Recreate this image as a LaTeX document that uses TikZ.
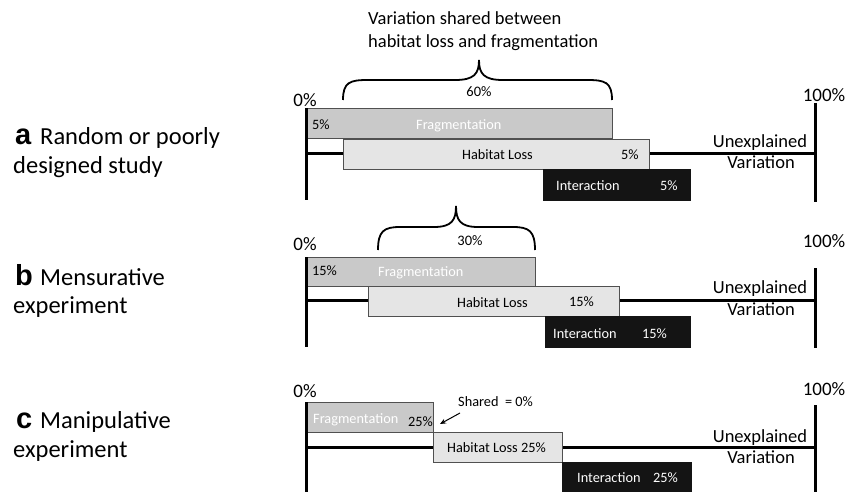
\documentclass[tikz,border=0pt]{standalone}
\usepackage{fontspec}
\setmainfont{Carlito}
\newfontfamily\letterfont{Liberation Sans}
\usetikzlibrary{arrows.meta}
\definecolor{fragfill}{RGB}{201,201,201}
\definecolor{habfill}{RGB}{229,229,229}
\definecolor{barline}{RGB}{80,80,80}
\definecolor{interfill}{RGB}{20,20,20}

\begin{document}
\begin{tikzpicture}[x=1pt,y=-1pt,
  axis/.style={line width=3pt},
  brace/.style={line width=1.8pt},
  barbase/.style={draw=barline, line width=0.8pt, anchor=north west, inner sep=0pt},
  fragbox/.style={barbase, fill=fragfill},
  habbox/.style={barbase, fill=habfill},
  interbox/.style={barbase, draw=interfill, fill=interfill},
  pct/.style={font=\fontsize{19}{19}\selectfont, inner sep=0pt, anchor=base},
  bigtxt/.style={font=\fontsize{18.5}{22}\selectfont, inner sep=0pt},
  barlbl/.style={font=\fontsize{14.3}{16}\selectfont, inner sep=0pt, anchor=base west},
  midpct/.style={font=\fontsize{14.5}{16}\selectfont, inner sep=0pt, anchor=base},
  sidetxt/.style={font=\fontsize{24.5}{28}\selectfont, inner sep=0pt, anchor=base west},
  lettertxt/.style={font=\letterfont\bfseries\fontsize{29}{29}\selectfont, inner sep=0pt, anchor=base west},
  unexpl/.style={bigtxt, anchor=base},
  sharedarrow/.style={line width=1pt, -{Stealth[length=6pt,width=5pt]}}
]
\useasboundingbox (0,0) rectangle (846,492);

% ---------- side labels ----------
\node[lettertxt] (la) at (15,145) {a};
\node[sidetxt] (la1) at (40,145) {Random or poorly};
\node[sidetxt] (la2) at (13,173) {designed study};
\node[lettertxt] (lb) at (15,285) {b};
\node[sidetxt] (lb1) at (40,285) {Mensurative};
\node[sidetxt] (lb2) at (13,313) {experiment};
\node[lettertxt] (lc) at (16,428) {c};
\node[sidetxt] (lc1) at (40,428) {Manipulative};
\node[sidetxt] (lc2) at (13,457) {experiment};

% ---------- panel a ----------
\node[bigtxt, anchor=base west] (titleA1) at (368,25) {Variation shared between};
\node[bigtxt, anchor=base west] (titleA2) at (368,48) {habitat loss and fragmentation};
\draw[brace] (343,100) .. controls (343,82) and (350,80) .. (368,80) -- (455,80)
  .. controls (474,80) and (479,74) .. (479,60)
  .. controls (479,74) and (484,80) .. (503,80) -- (587,80)
  .. controls (605,80) and (612,82) .. (612,100);
\node[midpct] (a60) at (479,97) {60\%};
\node[pct] (a0) at (305,107) {0\%};
\node[pct] (a100) at (824,102) {100\%};

\coordinate (aH1) at (306,154);
\coordinate (aH2) at (815,154);
\draw[axis] (aH1) -- (aH2);
\node[fragbox, minimum width=306pt, minimum height=30pt] (aF) at (306,108) {};
\node[habbox, minimum width=306pt, minimum height=30pt] (aH) at (343,139) {};
\node[interbox, minimum width=147pt, minimum height=31pt] (aI) at (543,169) {};
\coordinate (aL1) at (306,108);
\coordinate (aL2) at (306,200);
\coordinate (aR1) at (815,103);
\coordinate (aR2) at (815,202);
\draw[axis] (aL1) -- (aL2);
\draw[axis] (aR1) -- (aR2);

\node[barlbl] (aFp) at (312,130) {5\%};
\node[barlbl, text=white] (aFt) at (416,130) {Fragmentation};
\node[barlbl] (aHt) at (462,160) {Habitat Loss};
\node[barlbl] (aHp) at (621,160) {5\%};
\node[barlbl, text=white] (aIt) at (556,190) {Interaction};
\node[barlbl, text=white] (aIp) at (660,190) {5\%};
\node[unexpl] (aU1) at (760,147) {Unexplained};
\node[unexpl] (aU2) at (761,168) {Variation};

% ---------- panel b ----------
\draw[brace] (378,250) .. controls (378,231) and (384,227) .. (400,227) -- (434,227)
  .. controls (452,227) and (456,220) .. (456,206)
  .. controls (456,220) and (460,227) .. (478,227) -- (513,227)
  .. controls (529,227) and (535,231) .. (535,250);
\node[midpct] (b30) at (470,245) {30\%};
\node[pct] (b0) at (305,250) {0\%};
\node[pct] (b100) at (824,247) {100\%};

\coordinate (bH1) at (306,300);
\coordinate (bH2) at (815,300);
\draw[axis] (bH1) -- (bH2);
\node[fragbox, minimum width=229pt, minimum height=29pt] (bF) at (306,257) {};
\node[habbox, minimum width=251pt, minimum height=30pt] (bH) at (368,286) {};
\node[interbox, minimum width=145pt, minimum height=31pt] (bI) at (545,316) {};
\coordinate (bL1) at (306,257);
\coordinate (bL2) at (306,347);
\coordinate (bR1) at (815,268);
\coordinate (bR2) at (815,348);
\draw[axis] (bL1) -- (bL2);
\draw[axis] (bR1) -- (bR2);

\node[barlbl] (bFp) at (312,275) {15\%};
\node[barlbl, text=white] (bFt) at (378,276) {Fragmentation};
\node[barlbl] (bHt) at (457,307) {Habitat Loss};
\node[barlbl] (bHp) at (569,306) {15\%};
\node[barlbl, text=white] (bIt) at (553,338) {Interaction};
\node[barlbl, text=white] (bIp) at (642,338) {15\%};
\node[unexpl] (bU1) at (760,293) {Unexplained};
\node[unexpl] (bU2) at (761,315) {Variation};

% ---------- panel c ----------
\node[pct] (c0) at (305,397) {0\%};
\node[pct] (c100) at (824,395) {100\%};

\coordinate (cH1) at (306,447);
\coordinate (cH2) at (815,447);
\draw[axis] (cH1) -- (cH2);
\node[fragbox, minimum width=127pt, minimum height=30pt] (cF) at (306,402) {};
\node[habbox, minimum width=129pt, minimum height=30pt] (cH) at (433,432) {};
\node[interbox, minimum width=129pt, minimum height=31pt] (cI) at (562,462) {};
\coordinate (cL1) at (306,402);
\coordinate (cL2) at (306,492);
\coordinate (cR1) at (815,405);
\coordinate (cR2) at (815,492);
\draw[axis] (cL1) -- (cL2);
\draw[axis] (cR1) -- (cR2);

\node[barlbl, text=white] (cFt) at (313,423) {Fragmentation};
\node[barlbl] (cFp) at (408,426) {25\%};
\node[barlbl] (cHt) at (447,452) {Habitat Loss 25\%};
\node[barlbl, text=white] (cIt) at (577,482) {Interaction};
\node[barlbl, text=white] (cIp) at (653,482) {25\%};
\node[barlbl] (shared) at (458,406) {Shared\ \ = 0\%};
\coordinate (sharedtail) at (460,413);
\coordinate (sharedtip) at (440,424);
\draw[sharedarrow] (sharedtail) -- (sharedtip);
\node[unexpl] (cU1) at (760,442) {Unexplained};
\node[unexpl] (cU2) at (761,463) {Variation};
\end{tikzpicture}
\end{document}
